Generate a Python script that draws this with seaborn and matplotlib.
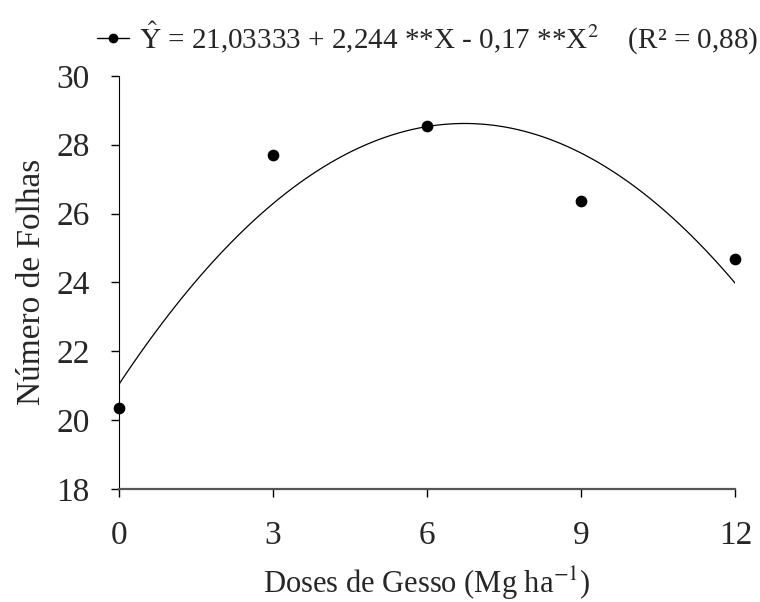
import pandas as pd
import matplotlib
matplotlib.use("Agg")
import matplotlib.pyplot as plt
import seaborn as sns
from matplotlib.lines import Line2D

# Doses de gesso (Mg/ha) and mean leaf number
doses = [0, 3, 6, 9, 12]
folhas = [20.34, 27.69, 28.53, 26.35, 24.67]
x_ticks = [0, 3, 6, 9, 12]
y_ticks = [18, 20, 22, 24, 26, 28, 30]

df = pd.DataFrame({"dose": doses, "folhas": folhas})

sns.set_style("white")
plt.rcParams['font.family'] = ['Liberation Serif', 'DejaVu Serif']
plt.rcParams['mathtext.fontset'] = 'stix'

fig = plt.figure(figsize=(7.6, 6.02), dpi=100)
ax = fig.add_axes([0.1566, 0.188, 0.811, 0.686])

# quadratic fit done by seaborn (order=2), same curve as the equation in the legend
sns.regplot(data=df, x="dose", y="folhas", order=2, ci=None, ax=ax,
            truncate=True, line_kws=dict(color="black", lw=0.9),
            scatter_kws=dict(color="black", alpha=1, s=55, zorder=3, clip_on=False))

ax.set_xlim(0, 12)
ax.set_ylim(18, 30)
ax.set_xticks(x_ticks)
ax.set_yticks(y_ticks)
ax.tick_params(axis="both", labelsize=24, direction="out", length=6, width=1,
               color="black", left=True, bottom=True)
ax.tick_params(axis="x", pad=17)
ax.tick_params(axis="y", pad=15)

sns.despine(ax=ax)
ax.spines["left"].set_color("black")
ax.spines["bottom"].set_color("#555555")
ax.spines["bottom"].set_linewidth(1.6)

ax.set_xlabel("Doses de Gesso (Mg ha$^{\\mathrm{-1}}$)", fontsize=22, labelpad=10)
ax.set_ylabel("Número de Folhas", fontsize=24, labelpad=7)

lbl = (r"$\hat{\mathrm{Y}}$ = 21,03333 + 2,244 **X - 0,17 **X$^{2}$    (R² = 0,88)")
handle = Line2D([], [], color="black", lw=1, marker="o", markersize=6)
fig.legend(handles=[handle], labels=[lbl], loc="center",
           bbox_to_anchor=(0.563, 0.937), frameon=False, fontsize=21,
           handlelength=1.1, handletextpad=0.35)

fig.savefig("out.png", dpi=100)
